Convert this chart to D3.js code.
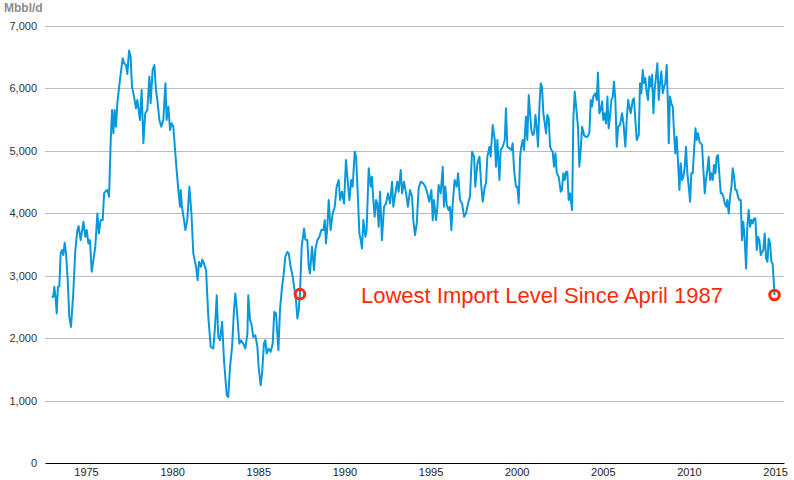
<!DOCTYPE html>
<html>
<head>
<meta charset="utf-8">
<script src="https://cdn.jsdelivr.net/npm/d3@7"></script>
<style>
  body { margin: 0; background: #fff; }
  text { font-family: "Liberation Sans", Arial, Helvetica, sans-serif; }
</style>
</head>
<body>
<script>
// monthly US crude imports (decimal year, Mbbl/d)
const years = [
  1973.01, 1973.10, 1973.16, 1973.24, 1973.30, 1973.37, 1973.45, 1973.53, 1973.61, 1973.68,
  1973.76, 1973.84, 1973.94, 1974.03, 1974.13, 1974.26, 1974.38, 1974.50, 1974.57, 1974.69,
  1974.85, 1974.96, 1975.04, 1975.14, 1975.23, 1975.33, 1975.43, 1975.54, 1975.66, 1975.75,
  1975.85, 1975.97, 1976.05, 1976.16, 1976.24, 1976.34, 1976.43, 1976.51, 1976.59, 1976.66,
  1976.74, 1976.82, 1976.97, 1977.13, 1977.21, 1977.32, 1977.40, 1977.50, 1977.59, 1977.67,
  1977.79, 1977.90, 1977.98, 1978.13, 1978.23, 1978.33, 1978.44, 1978.56, 1978.68, 1978.75,
  1978.87, 1978.97, 1979.06, 1979.14, 1979.26, 1979.37, 1979.49, 1979.61, 1979.68, 1979.78,
  1979.88, 1979.97, 1980.07, 1980.23, 1980.36, 1980.46, 1980.50, 1980.57, 1980.69, 1980.77,
  1980.88, 1981.00, 1981.12, 1981.23, 1981.39, 1981.48, 1981.56, 1981.68, 1981.75, 1981.85,
  1981.97, 1982.10, 1982.24, 1982.39, 1982.49, 1982.59, 1982.68, 1982.78, 1982.90, 1983.01,
  1983.17, 1983.26, 1983.36, 1983.48, 1983.59, 1983.67, 1983.79, 1983.90, 1983.98, 1984.13,
  1984.25, 1984.37, 1984.42, 1984.52, 1984.60, 1984.71, 1984.83, 1984.95, 1985.02, 1985.14,
  1985.22, 1985.33, 1985.41, 1985.49, 1985.60, 1985.72, 1985.84, 1985.93, 1986.03, 1986.17,
  1986.26, 1986.38, 1986.46, 1986.57, 1986.69, 1986.77, 1986.88, 1987.00, 1987.11, 1987.19,
  1987.27, 1987.35, 1987.42, 1987.52, 1987.66, 1987.73, 1987.85, 1987.93, 1988.00, 1988.12,
  1988.24, 1988.31, 1988.43, 1988.55, 1988.66, 1988.78, 1988.86, 1988.93, 1989.01, 1989.09,
  1989.20, 1989.32, 1989.44, 1989.55, 1989.67, 1989.75, 1989.86, 1989.98, 1990.09, 1990.17,
  1990.29, 1990.40, 1990.48, 1990.60, 1990.68, 1990.79, 1990.87, 1990.95, 1991.02, 1991.10,
  1991.22, 1991.29, 1991.41, 1991.53, 1991.60, 1991.68, 1991.76, 1991.84, 1991.91, 1991.99,
  1992.07, 1992.18, 1992.30, 1992.42, 1992.53, 1992.65, 1992.77, 1992.84, 1992.96, 1993.07,
  1993.15, 1993.27, 1993.35, 1993.46, 1993.58, 1993.69, 1993.81, 1993.93, 1994.00, 1994.10,
  1994.20, 1994.31, 1994.43, 1994.58, 1994.70, 1994.82, 1994.93, 1995.05, 1995.13, 1995.20,
  1995.32, 1995.40, 1995.47, 1995.59, 1995.71, 1995.78, 1995.86, 1995.94, 1996.05, 1996.13,
  1996.21, 1996.29, 1996.40, 1996.52, 1996.60, 1996.71, 1996.83, 1996.95, 1997.06, 1997.18,
  1997.29, 1997.41, 1997.53, 1997.60, 1997.72, 1997.84, 1997.95, 1998.03, 1998.15, 1998.22,
  1998.30, 1998.42, 1998.49, 1998.61, 1998.73, 1998.80, 1998.88, 1999.00, 1999.07, 1999.19,
  1999.31, 1999.38, 1999.46, 1999.58, 1999.69, 1999.77, 1999.85, 1999.96, 2000.04, 2000.12,
  2000.20, 2000.27, 2000.35, 2000.43, 2000.54, 2000.62, 2000.70, 2000.78, 2000.85, 2000.93,
  2001.01, 2001.09, 2001.16, 2001.24, 2001.32, 2001.40, 2001.47, 2001.55, 2001.63, 2001.71,
  2001.78, 2001.86, 2001.94, 2002.02, 2002.09, 2002.17, 2002.25, 2002.33, 2002.44, 2002.56,
  2002.63, 2002.71, 2002.79, 2002.87, 2002.94, 2003.02, 2003.10, 2003.22, 2003.29, 2003.37,
  2003.45, 2003.56, 2003.64, 2003.72, 2003.80, 2003.91, 2003.99, 2004.11, 2004.22, 2004.30,
  2004.38, 2004.45, 2004.57, 2004.65, 2004.72, 2004.80, 2004.88, 2004.96, 2005.03, 2005.11,
  2005.19, 2005.27, 2005.34, 2005.42, 2005.50, 2005.58, 2005.65, 2005.73, 2005.81, 2005.89,
  2006.00, 2006.12, 2006.20, 2006.31, 2006.39, 2006.47, 2006.54, 2006.62, 2006.74, 2006.81,
  2006.89, 2006.97, 2007.09, 2007.16, 2007.24, 2007.32, 2007.40, 2007.47, 2007.55, 2007.63,
  2007.70, 2007.78, 2007.86, 2007.94, 2008.01, 2008.09, 2008.17, 2008.25, 2008.32, 2008.40,
  2008.48, 2008.56, 2008.63, 2008.71, 2008.79, 2008.83, 2008.90, 2008.98, 2009.06, 2009.14,
  2009.21, 2009.29, 2009.37, 2009.45, 2009.52, 2009.60, 2009.68, 2009.76, 2009.83, 2009.91,
  2009.99, 2010.07, 2010.14, 2010.22, 2010.30, 2010.38, 2010.45, 2010.53, 2010.61, 2010.69,
  2010.76, 2010.84, 2010.92, 2010.99, 2011.07, 2011.15, 2011.23, 2011.30, 2011.38, 2011.46,
  2011.54, 2011.61, 2011.69, 2011.77, 2011.85, 2011.92, 2012.00, 2012.08, 2012.16, 2012.23,
  2012.31, 2012.39, 2012.47, 2012.54, 2012.62, 2012.70, 2012.77, 2012.85, 2012.93, 2013.01,
  2013.08, 2013.16, 2013.24, 2013.32, 2013.39, 2013.47, 2013.55, 2013.63, 2013.70, 2013.78,
  2013.86, 2013.94, 2014.01, 2014.09, 2014.17, 2014.25, 2014.32, 2014.40, 2014.48, 2014.56,
  2014.63, 2014.71, 2014.79, 2014.86, 2014.92, 2014.97
];
const imports = [
  2662, 2660, 2822, 2635, 2395, 2822, 2833, 3357, 3410, 3330,
  3528, 3357, 2929, 2341, 2180, 2715, 3410, 3731, 3795, 3570,
  3864, 3624, 3731, 3517, 3570, 3063, 3250, 3464, 3998, 3677,
  3891, 3891, 4319, 4361, 4372, 4265, 5120, 5655, 5281, 5655,
  5388, 5762, 6136, 6483, 6403, 6376, 6232, 6606, 6510, 6029,
  5869, 5682, 5815, 5495, 5976, 5121, 5602, 5655, 6190, 5762,
  6296, 6376, 5976, 5815, 5495, 5388, 5495, 6083, 5495, 5709,
  5334, 5441, 5388, 4800, 4372, 4105, 4372, 4105, 3891, 3731,
  3891, 4426, 3998, 3357, 3143, 2929, 3223, 3143, 3260, 3196,
  3089, 2341, 1860, 1833, 2180, 2688, 2020, 1967, 2261, 1646,
  1085, 1058, 1539, 1860, 2448, 2715, 2341, 1913, 1967, 1913,
  1833, 2074, 2688, 2288, 2234, 2020, 2047, 1860, 1539, 1245,
  1432, 1913, 1967, 1753, 1833, 1780, 1913, 2421, 2394, 1807,
  2448, 2822, 2983, 3303, 3383, 3357, 3143, 2983, 2769, 2608,
  2314, 2448, 2705, 3464, 3758, 3581, 3570, 3143, 3036, 3464,
  3089, 3410, 3570, 3624, 3731, 3731, 3891, 3517, 3784, 4212,
  3731, 3998, 4105, 4426, 4533, 4212, 4346, 4158, 4853, 4586,
  4212, 4533, 4426, 4987, 4907, 4212, 3677, 3570, 3437, 3891,
  3624, 3731, 4720, 4426, 4586, 4212, 3945, 4212, 4158, 3784,
  4346, 3570, 4105, 4158, 4319, 4158, 4506, 4105, 4319, 4506,
  4346, 4693, 4319, 4506, 4319, 4105, 4372, 4265, 3891, 3651,
  3838, 4399, 4506, 4479, 4426, 4319, 4185, 4372, 3891, 4212,
  3891, 4105, 4453, 4319, 4746, 4105, 4426, 4132, 4051, 4105,
  3731, 4158, 4533, 4426, 4640, 4212, 4158, 3945, 3998, 4158,
  4265, 4987, 4907, 4426, 4800, 4907, 4426, 4185, 4426, 4479,
  4907, 5067, 4907, 5415, 5174, 4746, 5174, 4533, 5014, 5067,
  5174, 5682, 5067, 5040, 5014, 5121, 4693, 4426, 4426, 4158,
  4907, 5067, 5174, 5014, 5548, 5174, 5896, 5602, 5334, 5254,
  5281, 5575, 5388, 5067, 5709, 6083, 6029, 5602, 5441, 5281,
  5575, 5522, 5067, 5014, 4987, 4746, 4960, 4640, 4586, 4346,
  4372, 4640, 4533, 4666, 4666, 4212, 4319, 4051, 5495, 5949,
  5709, 5388, 4746, 5014, 5388, 5254, 5227, 5227, 5281, 5815,
  5709, 5869, 5923, 5815, 6254, 5602, 5655, 5789, 5495, 5602,
  5441, 5869, 5361, 5548, 5815, 5869, 6109, 5815, 5067, 5388,
  5415, 5602, 5441, 5067, 5495, 5815, 5709, 5602, 5815, 5842,
  5495, 5174, 5254, 6083, 5923, 6296, 6083, 6163, 5923, 5815,
  6190, 6029, 6216, 5602, 5976, 6190, 6403, 5815, 6083, 6270,
  5923, 6029, 6083, 6376, 5655, 5121, 5869, 5762, 5709, 5281,
  4960, 5227, 4800, 4372, 4800, 4533, 4586, 4746, 5067, 4640,
  4426, 4185, 4640, 4640, 5014, 5361, 5174, 5281, 5147, 5121,
  5094, 4693, 4319, 4533, 4693, 4907, 4533, 4640, 4533, 4773,
  4640, 4907, 4933, 4613, 4319, 4319, 4265, 4158, 4105, 4212,
  3998, 4265, 4426, 4720, 4586, 4372, 4372, 4265, 4212, 4212,
  3570, 3864, 3570, 3116, 3784, 4051, 3784, 3891, 3838, 3918,
  3918, 3410, 3624, 3570, 3330, 3383, 3410, 3677, 3276, 3223,
  3597, 3517, 3223, 3196, 2929, 2690
];
const yTicks = [0, 1000, 2000, 3000, 4000, 5000, 6000, 7000];
const xTicks = [1975, 1980, 1985, 1990, 1995, 2000, 2005, 2010, 2015];
// the two months that get a red ring
const markYears = [1987.42, 2014.97];
const unitLabel = "Mbbl/d";
const note = "Lowest Import Level Since April 1987";

const W = 794, H = 480;
const plotLeft = 45, plotRight = 784, plotTop = 26, plotBottom = 463;

const svg = d3.select("body").append("svg")
  .attr("width", W)
  .attr("height", H);

const x = d3.scaleLinear()
  .domain([1972.62, 2015.52])
  .range([plotLeft, plotRight]);

const y = d3.scaleLinear()
  .domain([0, 7000])
  .range([plotBottom, plotTop]);

// gridlines
svg.append("g").selectAll("line").data(yTicks.slice(1))
  .enter().append("line")
  .attr("x1", plotLeft)
  .attr("x2", plotRight)
  .attr("y1", (d) => Math.round(y(d)) + 0.5)
  .attr("y2", (d) => Math.round(y(d)) + 0.5)
  .attr("stroke", "#bdbdbd")
  .attr("stroke-width", 1);

// y labels
svg.append("g").selectAll("text").data(yTicks)
  .enter().append("text")
  .attr("x", 37)
  .attr("y", (d) => y(d))
  .attr("dy", "0.36em")
  .attr("font-size", 11)
  .attr("fill", "#333")
  .style("text-anchor", "end")
  .text((d) => d3.format(",")(d));

svg.append("text")
  .attr("x", 4)
  .attr("y", 12)
  .attr("font-size", 12)
  .attr("font-weight", "bold")
  .attr("fill", "#8c8c8c")
  .text(unitLabel);

// x axis
const xAxis = d3.axisBottom(x)
  .tickValues(xTicks)
  .tickFormat(d3.format("d"))
  .tickSize(0)
  .tickPadding(5);

const gx = svg.append("g")
  .attr("transform", `translate(0, ${plotBottom})`)
  .call(xAxis);
gx.select(".domain").attr("stroke", "#000").attr("stroke-width", 1.2);
gx.selectAll("text")
  .attr("font-size", 11)
  .attr("font-family", "Liberation Sans, Arial, sans-serif")
  .attr("fill", "#222");

// series
const data = years.map((t, i) => [t, imports[i]]);

const line = d3.line()
  .x((d) => x(d[0]))
  .y((d) => y(d[1]));

svg.append("path")
  .datum(data)
  .attr("d", line)
  .attr("fill", "none")
  .attr("stroke", "#0a98dc")
  .attr("stroke-width", 2)
  .attr("stroke-linejoin", "round");

// red rings on the two matching levels
const marks = markYears.map((t) => data[years.indexOf(t)]);
svg.append("g").selectAll("circle").data(marks)
  .enter().append("circle")
  .attr("cx", (d) => x(d[0]))
  .attr("cy", (d) => y(d[1]))
  .attr("r", 4.8)
  .attr("fill", "none")
  .attr("stroke", "#ff2a0a")
  .attr("stroke-width", 3);

svg.append("text")
  .attr("x", 361)
  .attr("y", 303)
  .attr("font-size", 22)
  .attr("fill", "#ff2a0a")
  .text(note);
</script>
</body>
</html>
